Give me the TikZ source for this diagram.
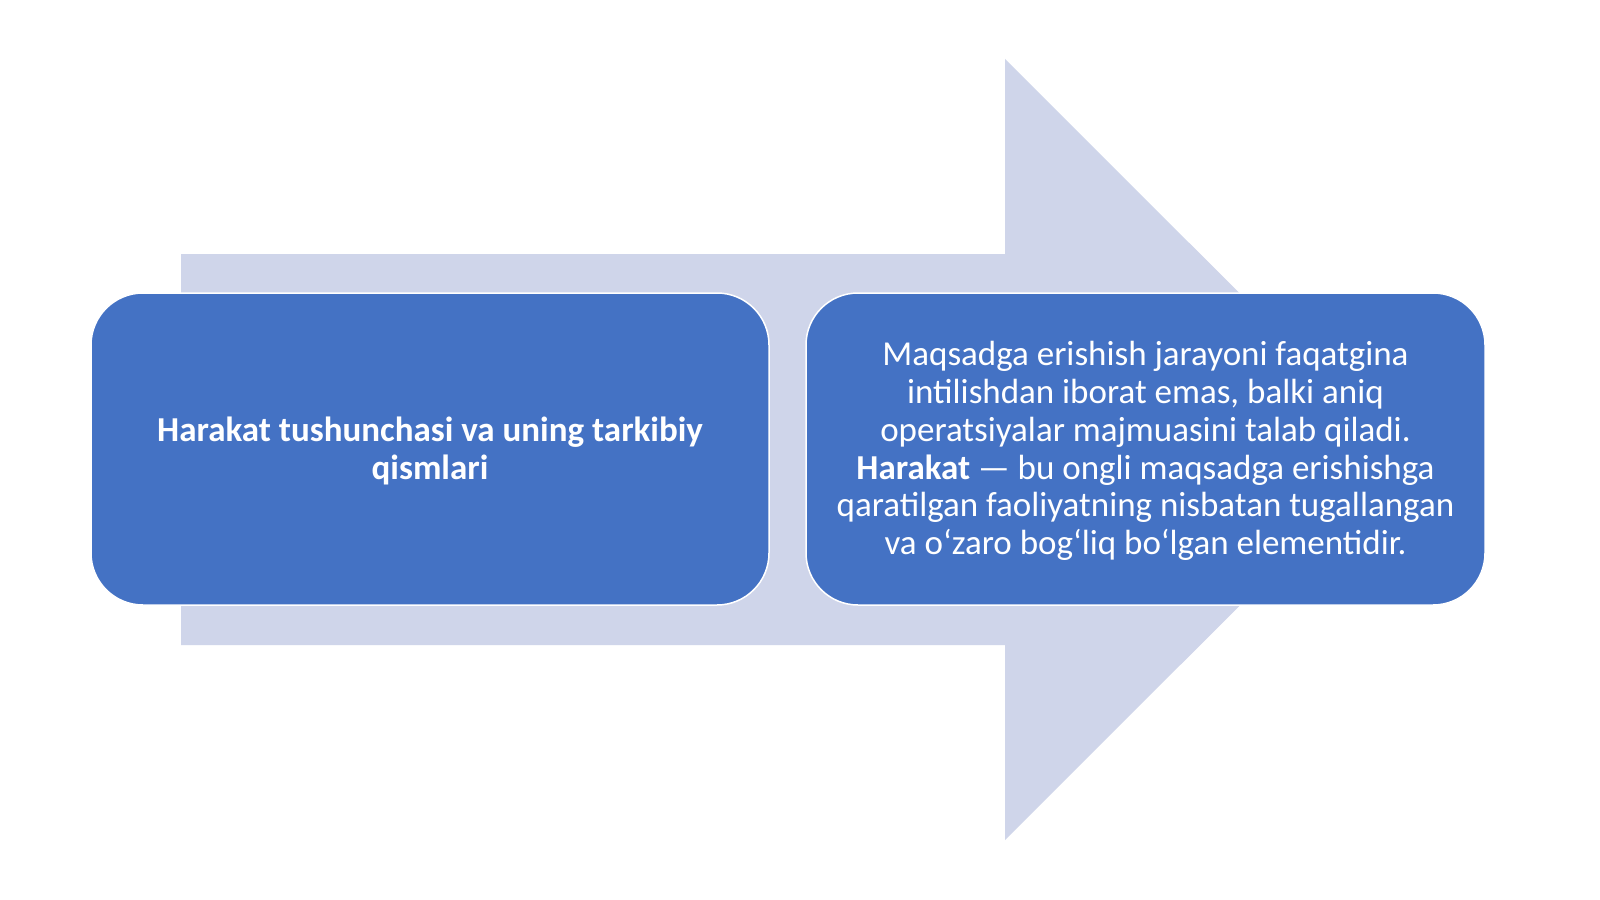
\documentclass[tikz,border=0pt]{standalone}
\usepackage{fontspec}
\setmainfont{Carlito}
\definecolor{boxblue}{HTML}{4472C4}
\definecolor{arrowfill}{HTML}{CFD5EA}
\begin{document}
\begin{tikzpicture}[x=1pt,y=-1pt,
  bluebox/.style={fill=boxblue, draw=white, line width=1.5pt, rounded corners=52pt},
  boxtext/.style={text=white, align=center, font=\fontsize{35}{37.8}\selectfont, inner sep=0pt}]
\useasboundingbox (0,0) rectangle (1600,899);
\fill[white] (0,0) rectangle (1600,899);
% big arrow
\fill[arrowfill] (181,254) -- (1005,254) -- (1005,59) -- (1396,449.5) -- (1005,840) -- (1005,645) -- (181,645) -- cycle;
% boxes
\draw[bluebox] (91,293) rectangle (769,605);
\draw[bluebox] (806,293) rectangle (1485,605);
\node[boxtext, font=\fontsize{35}{37.8}\selectfont\bfseries] (left) at (430,451) {Harakat tushunchasi va uning tarkibiy\\qismlari};
\node[boxtext] (right) at (1145.5,451) {Maqsadga erishish jarayoni faqatgina\\intilishdan iborat emas, balki aniq\\operatsiyalar majmuasini talab qiladi.\\\textbf{Harakat} — bu ongli maqsadga erishishga\\qaratilgan faoliyatning nisbatan tugallangan\\va oʻzaro bogʻliq boʻlgan elementidir.};
\end{tikzpicture}
\end{document}
